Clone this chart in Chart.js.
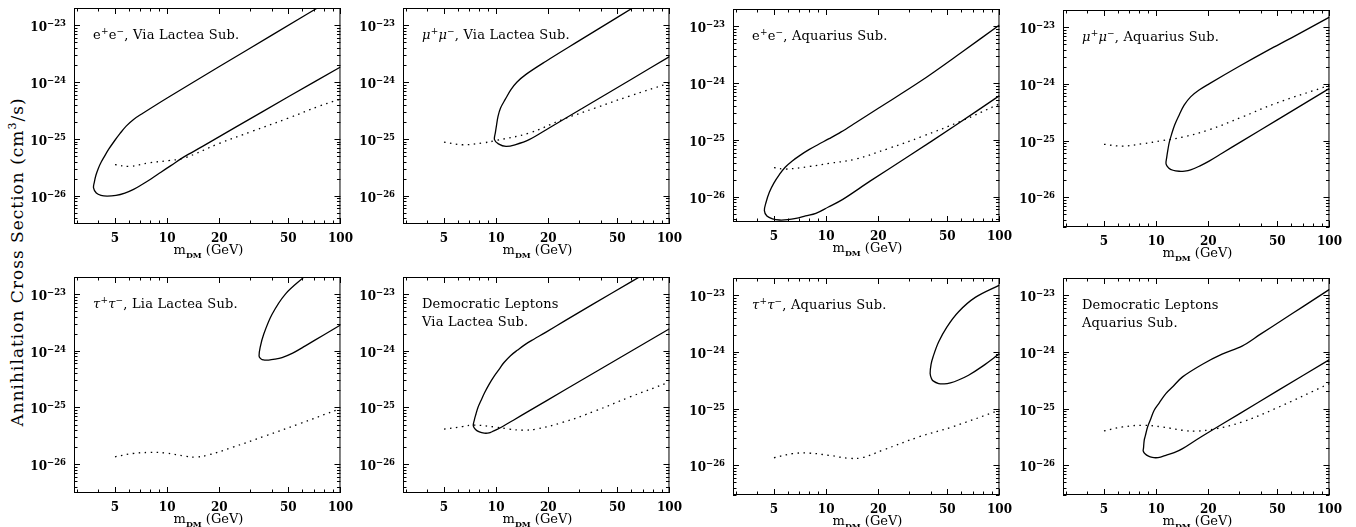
<!DOCTYPE html>
<html>
<head>
<meta charset="utf-8">
<script src="https://cdn.jsdelivr.net/npm/chart.js@4.4.0/dist/chart.umd.min.js"></script>
<style>
  body { margin: 0; background: #fff; width: 1356px; height: 527px; position: relative; overflow: hidden;
         font-family: 'DejaVu Serif', serif; color: #000; }
  canvas { position: absolute; }
  .note { position: absolute; font-size: 13px; line-height: 18px; letter-spacing: 0.2px; white-space: nowrap; }
  .note sup { font-size: 9px; line-height: 0; }
  .xt { position: absolute; font-size: 13px; line-height: 16px; text-align: center; white-space: nowrap; }
  .xt sub { font-size: 8px; font-weight: bold; line-height: 0; }
  .yl { position: absolute; width: 60px; text-align: right; font-size: 12px; line-height: 16px;
        font-weight: bold; white-space: nowrap; }
  .yl sup { font-size: 8.5px; line-height: 0; vertical-align: 5px; }
  .yt { position: absolute; left: 17px; top: 262px; font-size: 17px; letter-spacing: 1px; white-space: nowrap;
        transform: translate(-50%, -50%) rotate(-90deg); }
  .yt sup { font-size: 11px; line-height: 0; }
</style>
</head>
<body>
<div class="yt">Annihilation Cross Section (cm<sup>3</sup>/s)</div>
<script>
// tick labels
const xTickValues = [5, 10, 20, 50, 100];
const xTickLabels = ['5', '10', '20', '50', '100'];
const yTickValues = [1e-26, 1e-25, 1e-24, 1e-23];
const yTickLabels = ['10<sup>−26</sup>', '10<sup>−25</sup>', '10<sup>−24</sup>', '10<sup>−23</sup>'];

// solid contours (upper branch down to the nose, then lower branch) and dotted limits
// e+e-, Via Lactea
const eeVlMass = [100, 40, 20, 10, 7.2, 6.4, 5.8, 5.35, 4.96, 4.6, 4.34, 4.15, 4.0, 3.88, 3.8, 3.76,
                  3.9, 4.15, 4.5, 5.07, 5.7, 6.4, 7.2, 8.1, 9.2, 10.5, 12.5, 16, 25, 50, 100];
const eeVlSigma = [3.5e-23, 6.6e-24, 1.87e-24, 5.25e-25, 2.8e-25, 2.2e-25, 1.68e-25, 1.25e-25, 9.2e-26, 6.6e-26, 4.9e-26, 3.85e-26, 3.0e-26, 2.3e-26, 1.75e-26, 1.38e-26,
                   1.12e-26, 1.02e-26, 9.9e-27, 1.02e-26, 1.12e-26, 1.3e-26, 1.6e-26, 2.0e-26, 2.6e-26, 3.4e-26, 4.83e-26, 7.4e-26, 1.63e-25, 5.5e-25, 1.84e-24];
const eeVlLimMass = [5, 6.05, 7.88, 10.2, 12.5, 19.9, 30.9, 50.2, 74.8, 100];
const eeVlLimSigma = [3.55e-26, 3.3e-26, 3.8e-26, 4.17e-26, 4.6e-26, 8.3e-26, 1.36e-25, 2.33e-25, 3.74e-25, 5.0e-25];

// mu+mu-, Via Lactea
const mmVlMass = [100, 50, 30, 19.3, 14.8, 13.2, 12.14, 11.3, 10.6, 10.25, 10.05, 9.9, 9.78,
                  10.3, 11.4, 12.97, 15.5, 20.2, 35, 60, 100];
const mmVlSigma = [5e-23, 1.37e-23, 5.28e-24, 2.3e-24, 1.35e-24, 1.0e-24, 7.3e-25, 5.0e-25, 3.5e-25, 2.5e-25, 1.75e-25, 1.3e-25, 9.7e-26,
                   8.2e-26, 7.4e-26, 7.96e-26, 9.7e-26, 1.56e-25, 4.2e-25, 1.11e-24, 2.8e-24];
const mmVlLimMass = [5, 6.4, 8.35, 10, 15.5, 24, 37.4, 58.1, 100];
const mmVlLimSigma = [8.8e-26, 7.9e-26, 8.5e-26, 9.4e-26, 1.27e-25, 2.18e-25, 3.5e-25, 5.6e-25, 9.6e-25];

// e+e-, Aquarius
const eeAqMass = [100, 60, 35, 20, 14.8, 12.2, 10.4, 9, 8, 7.1, 6.4, 5.8, 5.37, 5.0, 4.7, 4.5, 4.4,
                  4.55, 4.9, 5.37, 6.0, 6.69, 7.6, 8.72, 10.3, 12.4, 18, 30, 55, 100];
const eeAqSigma = [1.05e-23, 3.4e-24, 1.07e-24, 3.6e-25, 2.0e-25, 1.38e-25, 1.05e-25, 8.3e-26, 6.8e-26, 5.4e-26, 4.3e-26, 3.3e-26, 2.45e-26, 1.75e-26, 1.2e-26, 8e-27, 5.7e-27,
                   4.6e-27, 4.1e-27, 3.9e-27, 3.95e-27, 4.17e-27, 4.6e-27, 5.1e-27, 6.6e-27, 8.9e-27, 1.9e-26, 5.2e-26, 1.75e-25, 6.0e-25];
const eeAqLimMass = [5, 5.86, 8.0, 10.4, 14.8, 23, 35.8, 60.8, 100];
const eeAqLimSigma = [3.24e-26, 3.07e-26, 3.4e-26, 3.86e-26, 4.6e-26, 7.1e-26, 1.15e-25, 2.17e-25, 4.3e-25];

// mu+mu-, Aquarius
const mmAqMass = [100, 60, 44.6, 30, 20.2, 17.6, 15.8, 14.5, 13.56, 12.8, 12.3, 11.9, 11.67, 11.5, 11.4,
                  11.8, 12.5, 13.56, 14.6, 15.8, 17.8, 20.2, 24, 31.3, 50, 100];
const mmAqSigma = [1.5e-23, 6.4e-24, 3.97e-24, 2.02e-24, 1.0e-24, 7.7e-25, 5.9e-25, 4.2e-25, 2.8e-25, 1.9e-25, 1.32e-25, 9.3e-26, 6.7e-26, 5e-26, 3.9e-26,
                   3.3e-26, 3.0e-26, 2.88e-26, 2.9e-26, 3.04e-26, 3.55e-26, 4.34e-26, 5.97e-26, 9.8e-26, 2.32e-25, 8.3e-25];
const mmAqLimMass = [5, 6.4, 8.35, 10.9, 14.2, 20.2, 31.3, 48.7, 100];
const mmAqLimSigma = [8.6e-26, 8.0e-26, 8.8e-26, 1.0e-25, 1.15e-25, 1.55e-25, 2.6e-25, 4.5e-25, 9.4e-25];

// tau+tau-, Via Lactea
const ttVlMass = [75, 61.3, 48.1, 40.3, 36.1, 34.4, 33.9, 34.4, 35.3, 38.5, 42, 46.0, 53, 62.7, 80, 100];
const ttVlSigma = [3.4e-23, 1.97e-23, 1.0e-23, 4.4e-24, 1.97e-24, 1.15e-24, 8.2e-25, 7.4e-25, 7.0e-25, 6.85e-25, 7.1e-25, 7.6e-25, 9.1e-25, 1.22e-24, 1.9e-24, 2.85e-24];
const ttVlLimMass = [5, 6.32, 7.88, 9.82, 12.8, 14.6, 17.4, 23.7, 36.9, 57.3, 100];
const ttVlLimSigma = [1.35e-26, 1.54e-26, 1.61e-26, 1.57e-26, 1.38e-26, 1.33e-26, 1.46e-26, 1.97e-26, 3.16e-26, 5.08e-26, 9.6e-26];

// democratic leptons, Via Lactea
const dmVlMass = [100, 60, 35.8, 25, 19.3, 16.5, 14.8, 13.3, 12.1, 11.1, 10.4, 9.7, 9.12, 8.6, 8.16, 7.85, 7.64, 7.48, 7.38,
                  7.6, 8.0, 8.53, 9.1, 9.53, 10.2, 10.9, 12.5, 15.5, 25, 50, 100];
const dmVlSigma = [4.1e-23, 1.64e-23, 6.5e-24, 3.4e-24, 2.11e-24, 1.6e-24, 1.31e-24, 1.03e-24, 8.2e-25, 6.2e-25, 4.7e-25, 3.5e-25, 2.58e-25, 1.85e-25, 1.31e-25, 1.0e-25, 7.6e-26, 6e-26, 4.74e-26,
                   4.1e-26, 3.7e-26, 3.52e-26, 3.55e-26, 3.77e-26, 4.14e-26, 4.62e-26, 5.9e-26, 8.7e-26, 2.05e-25, 7.1e-25, 2.45e-24];
const dmVlLimMass = [5, 6.4, 7.3, 10, 11.9, 14.2, 16.9, 24.1, 37.4, 58.1, 100];
const dmVlLimSigma = [4.15e-26, 4.6e-26, 4.9e-26, 4.5e-26, 4.15e-26, 3.98e-26, 4.15e-26, 5.43e-26, 8.7e-26, 1.5e-25, 2.8e-25];

// tau+tau-, Aquarius
const ttAqMass = [100, 72.5, 58.1, 49.8, 44.6, 41.4, 40.3, 39.8, 40.5, 41.4, 44.6, 48, 52.1, 58, 66.3, 80, 100];
const ttAqSigma = [1.5e-23, 9.1e-24, 5.1e-24, 2.76e-24, 1.5e-24, 8.2e-25, 6.0e-25, 4.15e-25, 3.4e-25, 3.08e-25, 2.76e-25, 2.72e-25, 2.84e-25, 3.19e-25, 3.87e-25, 5.6e-25, 9.3e-25];
const ttAqLimMass = [5, 6.4, 8.0, 10.4, 13.6, 16.2, 21.1, 34.2, 53.2, 100];
const ttAqLimSigma = [1.36e-26, 1.61e-26, 1.64e-26, 1.5e-26, 1.33e-26, 1.37e-26, 1.84e-26, 3.16e-26, 4.74e-26, 9.35e-26];

// democratic leptons, Aquarius
const dmAqMass = [100, 70, 53.2, 40, 31.3, 24.0, 18.5, 14.2, 12.5, 11.37, 10.4, 9.74, 9.25, 8.92, 8.65, 8.53, 8.45, 8.42,
                  8.65, 9.03, 9.5, 9.96, 10.6, 11.37, 12.7, 14.2, 17, 20.2, 30, 50, 100];
const dmAqSigma = [1.26e-23, 6.2e-24, 3.6e-24, 2.05e-24, 1.26e-24, 9.1e-25, 6.05e-25, 3.62e-25, 2.45e-25, 1.84e-25, 1.25e-25, 9.35e-26, 6.3e-26, 4.74e-26, 3.27e-26, 2.76e-26, 2.0e-26, 1.79e-26,
                   1.58e-26, 1.45e-26, 1.38e-26, 1.36e-26, 1.4e-26, 1.5e-26, 1.67e-26, 1.97e-26, 2.8e-26, 3.87e-26, 8.0e-26, 2.05e-25, 7.3e-25];
const dmAqLimMass = [5, 6.4, 8.35, 10.9, 14.2, 16.9, 22.0, 31.3, 48.7, 100];
const dmAqLimSigma = [4.04e-26, 4.74e-26, 5.08e-26, 4.74e-26, 4.15e-26, 4.0e-26, 4.4e-26, 5.8e-26, 1.0e-25, 2.76e-25];

const panels = [
  { left: 74, top: 8, h: 216, yMin: 3.2e-27, note: 'e<sup>+</sup>e<sup>−</sup>, Via Lactea Sub.',
    cm: eeVlMass, cs: eeVlSigma, lm: eeVlLimMass, ls: eeVlLimSigma },
  { left: 403, top: 8, h: 216, yMin: 3.2e-27, note: '<i>μ</i><sup>+</sup><i>μ</i><sup>−</sup>, Via Lactea Sub.',
    cm: mmVlMass, cs: mmVlSigma, lm: mmVlLimMass, ls: mmVlLimSigma },
  { left: 733, top: 9, h: 213, yMin: 3.6e-27, note: 'e<sup>+</sup>e<sup>−</sup>, Aquarius Sub.',
    cm: eeAqMass, cs: eeAqSigma, lm: eeAqLimMass, ls: eeAqLimSigma },
  { left: 1063, top: 10, h: 217, yMin: 3.0e-27, note: '<i>μ</i><sup>+</sup><i>μ</i><sup>−</sup>, Aquarius Sub.',
    cm: mmAqMass, cs: mmAqSigma, lm: mmAqLimMass, ls: mmAqLimSigma },
  { left: 74, top: 277, h: 216, yMin: 3.1e-27, note: '<i>τ</i><sup>+</sup><i>τ</i><sup>−</sup>, Lia Lactea Sub.',
    cm: ttVlMass, cs: ttVlSigma, lm: ttVlLimMass, ls: ttVlLimSigma },
  { left: 403, top: 277, h: 216, yMin: 3.1e-27, note: 'Democratic Leptons<br>Via Lactea Sub.',
    cm: dmVlMass, cs: dmVlSigma, lm: dmVlLimMass, ls: dmVlLimSigma },
  { left: 733, top: 278, h: 217, yMin: 3.0e-27, note: '<i>τ</i><sup>+</sup><i>τ</i><sup>−</sup>, Aquarius Sub.',
    cm: ttAqMass, cs: ttAqSigma, lm: ttAqLimMass, ls: ttAqLimSigma },
  { left: 1063, top: 278, h: 217, yMin: 3.0e-27, note: 'Democratic Leptons<br>Aquarius Sub.',
    cm: dmAqMass, cs: dmAqSigma, lm: dmAqLimMass, ls: dmAqLimSigma }
];

const W = 269, PAD_L = 60, PAD_T = 10, PAD_R = 18, PAD_B = 24;
const X_MIN = 2.9, X_MAX = 100, Y_MAX = 2e-23;

Chart.defaults.font.family = "'DejaVu Serif', serif";
Chart.defaults.color = '#000';

// minor + major tick list for a log axis; labelled ones are major
function logTicks(min, max, values, labels) {
  const out = [];
  for (let e = Math.floor(Math.log10(min)); e <= Math.ceil(Math.log10(max)); e++) {
    for (let k = 1; k <= 9; k++) {
      const v = k * Math.pow(10, e);
      if (v < min * 0.999 || v > max * 1.001) continue;
      const j = values.findIndex(t => Math.abs(t - v) / t < 1e-6);
      out.push({ value: j >= 0 ? values[j] : v, lab: j >= 0 && labels[j] ? labels[j] : '', major: j >= 0 });
    }
  }
  return out;
}

// inward tick marks on all four sides plus the frame
const frameTicks = {
  id: 'frameTicks',
  afterDraw(chart) {
    const { ctx, chartArea: a, scales: { x, y } } = chart;
    ctx.save();
    ctx.strokeStyle = '#000';
    ctx.lineWidth = 1;
    ctx.beginPath();
    x.ticks.forEach(t => {
      const p = Math.round(x.getPixelForValue(t.value)) + 0.5;
      const len = t.major ? 6 : 3.5;
      ctx.moveTo(p, a.bottom); ctx.lineTo(p, a.bottom - len);
      ctx.moveTo(p, a.top); ctx.lineTo(p, a.top + len);
    });
    y.ticks.forEach(t => {
      const p = Math.round(y.getPixelForValue(t.value)) + 0.5;
      const len = t.major ? 6 : 3.5;
      ctx.moveTo(a.left, p); ctx.lineTo(a.left + len, p);
      ctx.moveTo(a.right, p); ctx.lineTo(a.right - len, p);
    });
    ctx.stroke();
    ctx.strokeRect(a.left + 0.5, a.top + 0.5, a.right - a.left - 1, a.bottom - a.top - 1);
    ctx.restore();
  }
};

function pts(xs, ys) { return xs.map((x, i) => ({ x: x, y: ys[i] })); }

function addDiv(cls, html, left, top, width) {
  const d = document.createElement('div');
  d.className = cls;
  d.style.left = left + 'px';
  d.style.top = top + 'px';
  if (width) d.style.width = width + 'px';
  d.innerHTML = html;
  document.body.appendChild(d);
}

panels.forEach(p => {
  const cv = document.createElement('canvas');
  cv.width = PAD_L + W + PAD_R;
  cv.height = PAD_T + p.h + PAD_B;
  cv.style.left = (p.left - PAD_L) + 'px';
  cv.style.top = (p.top - PAD_T) + 'px';
  document.body.appendChild(cv);

  const chart = new Chart(cv, {
    type: 'scatter',
    data: {
      datasets: [
        { data: pts(p.cm, p.cs), showLine: true, borderColor: '#000', borderWidth: 1.3,
          pointRadius: 0, tension: 0.35 },
        { data: pts(p.lm, p.ls), showLine: true, borderColor: '#000', borderWidth: 1.3,
          borderDash: [1.5, 4.5], pointRadius: 0, tension: 0.4 }
      ]
    },
    options: {
      responsive: false,
      animation: false,
      devicePixelRatio: 1,
      layout: { padding: { left: 0, top: PAD_T, right: PAD_R, bottom: 0 } },
      plugins: { legend: { display: false }, tooltip: { enabled: false } },
      scales: {
        x: {
          type: 'logarithmic', min: X_MIN, max: X_MAX,
          grid: { display: false, drawTicks: false },
          border: { display: false },
          afterBuildTicks: s => { s.ticks = logTicks(X_MIN, X_MAX, xTickValues, xTickLabels); },
          afterFit: s => { s.height = PAD_B; },
          ticks: { autoSkip: false, maxRotation: 0, minRotation: 0, padding: 8,
                   font: { size: 12, weight: 'bold' },
                   callback: (v, i, t) => t[i].lab }
        },
        y: {
          type: 'logarithmic', min: p.yMin, max: Y_MAX,
          grid: { display: false, drawTicks: false },
          border: { display: false },
          afterBuildTicks: s => { s.ticks = logTicks(p.yMin, Y_MAX, yTickValues, []); },
          afterFit: s => { s.width = PAD_L; },
          ticks: { display: false }
        }
      }
    },
    plugins: [frameTicks]
  });

  // y tick labels with real superscripts, placed at the scale's own pixel positions
  const ys = chart.scales.y;
  yTickValues.forEach((v, k) => {
    const py = ys.getPixelForValue(v);
    addDiv('yl', yTickLabels[k], p.left - 8 - 60, p.top - PAD_T + py - 6);
  });

  addDiv('note', p.note, p.left + 19, p.top + 18);
  addDiv('xt', 'm<sub>DM</sub> (GeV)', p.left, p.top + p.h + 18, W);
});
</script>
</body>
</html>
